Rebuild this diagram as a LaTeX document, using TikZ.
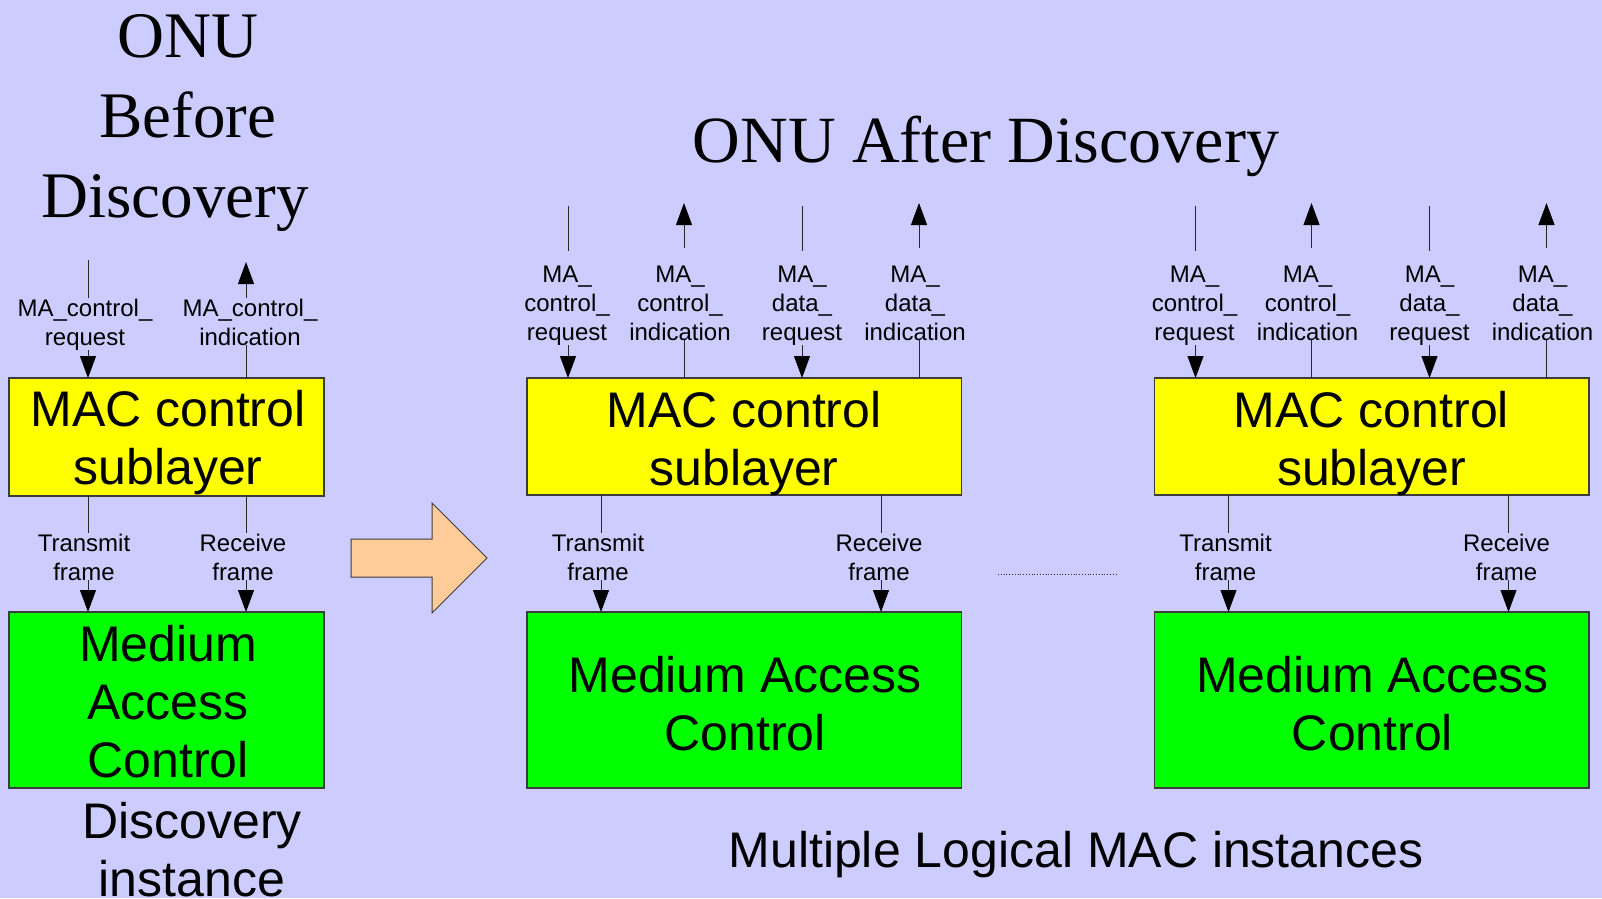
\documentclass[tikz,border=0pt]{standalone}
\usepackage{fontspec}
\setmainfont{Liberation Sans}
\newfontfamily\serifttl{Liberation Serif}
\usetikzlibrary{arrows.meta}
\definecolor{bgc}{RGB}{204,204,255}
\definecolor{ylw}{RGB}{255,255,0}
\definecolor{grn}{RGB}{0,255,0}
\definecolor{peach}{RGB}{255,204,153}
\definecolor{edgec}{RGB}{60,60,60}
\definecolor{wirec}{RGB}{40,40,40}
\begin{document}
\begin{tikzpicture}[x=1pt,y=-1pt,
  box/.style={draw=edgec, line width=1.3pt, anchor=north west, inner sep=0pt, outer sep=0pt},
  ybox/.style={box, fill=ylw},
  gbox/.style={box, fill=grn},
  big/.style={font=\fontsize{50}{58}\selectfont, align=center, anchor=base, inner sep=0pt},
  small/.style={font=\fontsize{24}{29}\selectfont, align=center, anchor=base, inner sep=0pt},
  ttl/.style={font=\serifttl\fontsize{65}{80}\selectfont, align=center, anchor=base, inner sep=0pt},
  wire/.style={draw=wirec, line width=1pt},
  arr/.style={wire, -{Triangle[length=22pt,width=16pt,black]}},
  bigarrow/.style={draw=edgec, line width=1pt, fill=peach, line join=miter}
]
\fill[bgc] (0,0) rectangle (1602,898);
\useasboundingbox (0,0) rectangle (1602,898);

% ---------- titles (base = last line baseline) ----------
\node[ttl] (t1) at (175,217) {\hspace*{26pt}ONU\\\hspace*{26pt}Before\\Discovery};
\node[ttl, font=\serifttl\fontsize{66}{80}\selectfont] (t2) at (986,162) {ONU After Discovery};

% ---------- left column (discovery instance) ----------
\node[ybox, minimum width=315pt, minimum height=118pt] (Y1) at (9,378) {};
\node[gbox, minimum width=315pt, minimum height=176pt] (G1) at (9,612) {};
\node[big] (Yt1) at (168,484) {MAC control\\sublayer};
\node[big] (Gt1) at (168,777) {Medium\\Access\\Control};
\node[big] (di) at (192,896) {Discovery\\instance};

\coordinate (LAt) at (88,260);
\coordinate (LBt) at (246,262);
\node[small] (LAl) at (85,345) {MA\_control\_\\request};
\node[small] (LBl) at (250,345) {MA\_control\_\\indication};
\draw[wire] (LAt) -- (LAt |- LAl.north);
\draw[arr] (LAt |- LAl.south) -- (LAt |- Y1.north);
\draw[arr] (LBt |- LBl.north) -- (LBt);
\draw[wire] (LBt |- Y1.north) -- (LBt |- LBl.south);

\node[small] (LTl) at (84,580) {Transmit\\frame};
\node[small] (LRl) at (243,580) {Receive\\frame};
\draw[wire] (LAt |- Y1.south) -- (LAt |- LTl.north);
\draw[arr] (LAt |- LTl.south) -- (LAt |- G1.north);
\draw[wire] (LBt |- Y1.south) -- (LBt |- LRl.north);
\draw[arr] (LBt |- LRl.south) -- (LBt |- G1.north);

% ---------- big arrow ----------
\draw[bigarrow] (351,539) -- (432,539) -- (432,503) -- (487,558) -- (432,613) -- (432,577) -- (351,577) -- cycle;

% ---------- logical MAC instances ----------
\foreach \o/\s in {0/M,627.5/R}{
  \node[ybox, minimum width=434.5pt, minimum height=117pt] (Y\s) at (527+\o,378) {};
  \node[gbox, minimum width=434.5pt, minimum height=176pt] (G\s) at (527+\o,612) {};
  \node[big] (Yt\s) at (744+\o,485) {MAC control\\sublayer};
  \node[big] (Gt\s) at (745+\o,750) {Medium Access\\Control};

  \coordinate (A\s) at (568+\o,206);
  \coordinate (B\s) at (684+\o,203);
  \coordinate (C\s) at (802+\o,206);
  \coordinate (D\s) at (919+\o,203);
  \coordinate (T\s) at (601+\o,495);
  \coordinate (R\s) at (881+\o,495);

  \node[small] (Al\s) at (567+\o,340) {MA\_\\control\_\\request};
  \node[small] (Bl\s) at (680+\o,340) {MA\_\\control\_\\indication};
  \node[small] (Cl\s) at (802+\o,340) {MA\_\\data\_\\request};
  \node[small] (Dl\s) at (915+\o,340) {MA\_\\data\_\\indication};

  \draw[wire, shorten >=14pt] (A\s) -- (A\s |- Al\s.north);
  \draw[arr] (A\s |- Al\s.south) -- (A\s |- Y\s.north);
  \draw[arr, shorten <=17pt] (B\s |- Bl\s.north) -- (B\s);
  \draw[wire] (B\s |- Y\s.north) -- (B\s |- Bl\s.south);
  \draw[wire, shorten >=14pt] (C\s) -- (C\s |- Cl\s.north);
  \draw[arr] (C\s |- Cl\s.south) -- (C\s |- Y\s.north);
  \draw[arr, shorten <=17pt] (D\s |- Dl\s.north) -- (D\s);
  \draw[wire] (D\s |- Y\s.north) -- (D\s |- Dl\s.south);

  \node[small] (Tl\s) at (598+\o,580) {Transmit\\frame};
  \node[small] (Rl\s) at (879+\o,580) {Receive\\frame};
  \draw[wire] (T\s |- Y\s.south) -- (T\s |- Tl\s.north);
  \draw[arr] (T\s |- Tl\s.south) -- (T\s |- G\s.north);
  \draw[wire] (R\s |- Y\s.south) -- (R\s |- Rl\s.north);
  \draw[arr] (R\s |- Rl\s.south) -- (R\s |- G\s.north);
}

% ---------- dotted separator ----------
\coordinate (dl) at (998,574);
\coordinate (dr) at (1118,574);
\draw[wirec, line width=0.8pt, dotted] (dl) -- (dr);

\node[big] (mli) at (1076,867) {Multiple Logical MAC instances};
\end{tikzpicture}
\end{document}
